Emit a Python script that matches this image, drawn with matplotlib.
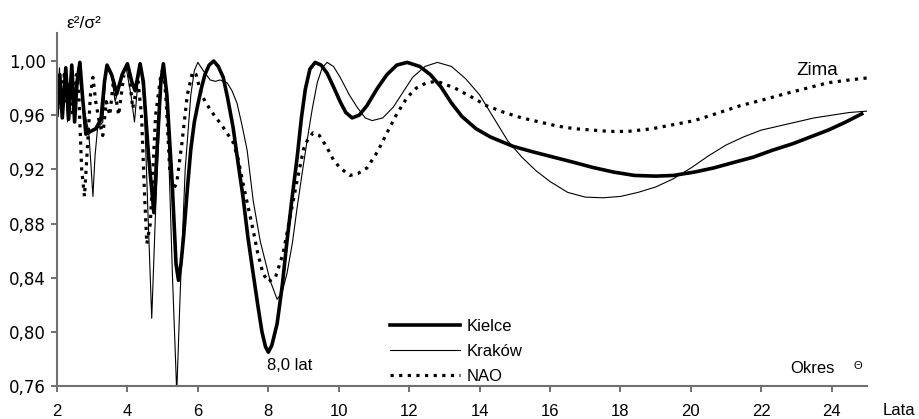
import matplotlib
matplotlib.use("Agg")
import matplotlib.pyplot as plt
from matplotlib.ticker import FixedLocator, FuncFormatter

# --- data (period in years, eps^2/sigma^2) ---
kielce_x = [2.00, 2.08, 2.15, 2.25, 2.33, 2.42, 2.50, 2.57, 2.65, 2.72, 2.82, 2.95,
            3.10, 3.25, 3.35, 3.42, 3.55, 3.70, 3.85, 4.00, 4.12, 4.22, 4.36, 4.45,
            4.60, 4.75, 4.84, 4.95, 5.02, 5.12, 5.27, 5.38, 5.45, 5.52, 5.60, 5.70,
            5.80, 5.90, 6.00, 6.10, 6.20, 6.32, 6.45, 6.58, 6.72, 6.85, 7.00, 7.14,
            7.28, 7.42, 7.57, 7.70, 7.82, 7.92, 8.00, 8.10, 8.25, 8.40, 8.53, 8.68,
            8.82, 8.94, 9.05, 9.18, 9.33, 9.50, 9.67, 9.85, 10.04, 10.20, 10.38, 10.58,
            10.80, 11.10, 11.37, 11.65, 11.94, 12.30, 12.60, 12.90, 13.20, 13.50, 13.90,
            14.30, 14.95, 15.50, 16.10, 16.70, 17.20, 17.80, 18.40, 19.00, 19.50, 20.10,
            20.64, 21.20, 21.77, 22.30, 22.90, 23.40, 23.90, 24.40, 24.85]
kielce_y = [0.960, 0.990, 0.958, 0.995, 0.957, 0.997, 0.955, 0.985, 0.999, 0.975, 0.946, 0.948,
            0.950, 0.957, 0.985, 0.997, 0.990, 0.976, 0.990, 0.998, 0.985, 0.978, 0.998, 0.985,
            0.930, 0.888, 0.934, 0.985, 0.998, 0.975, 0.910, 0.850, 0.838, 0.850, 0.872, 0.905,
            0.935, 0.955, 0.968, 0.980, 0.990, 0.997, 1.000, 0.996, 0.988, 0.972, 0.951, 0.925,
            0.900, 0.870, 0.843, 0.820, 0.800, 0.789, 0.785, 0.790, 0.806, 0.835, 0.867, 0.900,
            0.929, 0.958, 0.979, 0.994, 0.999, 0.997, 0.991, 0.981, 0.970, 0.962, 0.958, 0.960,
            0.967, 0.980, 0.990, 0.997, 0.999, 0.996, 0.990, 0.981, 0.969, 0.959, 0.950,
            0.944, 0.937, 0.933, 0.929, 0.925, 0.9215, 0.918, 0.9155, 0.915, 0.9155, 0.918,
            0.921, 0.925, 0.929, 0.934, 0.939, 0.944, 0.949, 0.955, 0.961]

krakow_x = [2.00, 2.07, 2.13, 2.22, 2.30, 2.40, 2.48, 2.60, 2.70, 2.80, 2.90, 2.96,
            3.02, 3.08, 3.15, 3.30, 3.40, 3.55, 3.65, 3.80, 3.95, 4.10, 4.20, 4.30,
            4.38, 4.48, 4.58, 4.69, 4.80, 4.95, 5.05, 5.15, 5.28, 5.40, 5.50, 5.64,
            5.80, 5.90, 6.00, 6.15, 6.35, 6.50, 6.63, 6.83, 6.97, 7.11, 7.25, 7.40,
            7.57, 7.77, 8.05, 8.25, 8.40, 8.53, 8.68, 8.82, 8.96, 9.10, 9.25, 9.39,
            9.53, 9.67, 9.85, 10.04, 10.30, 10.52, 10.75, 10.95, 11.25, 11.55, 11.85,
            12.10, 12.45, 12.80, 13.20, 13.60, 14.00, 14.40, 14.80, 15.20, 15.60, 16.00,
            16.50, 17.00, 17.50, 18.00, 18.50, 19.00, 19.50, 20.00, 20.50, 21.00, 21.50,
            22.00, 22.50, 23.00, 23.50, 24.00, 24.50, 25.00]
krakow_y = [0.965, 0.995, 0.960, 0.990, 0.955, 0.997, 0.960, 0.995, 0.975, 0.960, 0.948, 0.925,
            0.900, 0.930, 0.950, 0.955, 0.995, 0.990, 0.970, 0.985, 0.997, 0.975, 0.955, 0.985,
            0.997, 0.965, 0.890, 0.810, 0.890, 0.980, 0.997, 0.950, 0.840, 0.755, 0.830, 0.920,
            0.975, 0.993, 0.999, 0.993, 0.986, 0.985, 0.986, 0.984, 0.978, 0.969, 0.953, 0.934,
            0.897, 0.867, 0.838, 0.824, 0.830, 0.843, 0.865, 0.892, 0.917, 0.941, 0.965, 0.984,
            0.995, 0.999, 0.996, 0.988, 0.975, 0.966, 0.958, 0.956, 0.958, 0.966, 0.978,
            0.988, 0.996, 0.999, 0.996, 0.987, 0.975, 0.958, 0.941, 0.929, 0.919, 0.911,
            0.903, 0.8995, 0.899, 0.900, 0.903, 0.907, 0.913, 0.921, 0.930, 0.938, 0.944,
            0.949, 0.952, 0.955, 0.958, 0.960, 0.962, 0.963]

nao_x = [2.00, 2.05, 2.12, 2.20, 2.28, 2.35, 2.45, 2.55, 2.62, 2.70, 2.78, 2.85,
         2.95, 3.02, 3.10, 3.20, 3.30, 3.40, 3.50, 3.60, 3.75, 3.90, 4.05, 4.15,
         4.30, 4.40, 4.48, 4.55, 4.65, 4.80, 4.95, 5.02, 5.10, 5.20, 5.30, 5.40,
         5.55, 5.70, 5.85, 5.95, 6.10, 6.35, 6.72, 7.00, 7.14, 7.28, 7.42, 7.57,
         7.70, 7.85, 8.00, 8.20, 8.42, 8.62, 8.82, 9.00, 9.10, 9.27, 9.45, 9.67,
         9.85, 10.04, 10.32, 10.55, 10.80, 11.10, 11.37, 11.65, 11.94, 12.20, 12.50,
         12.80, 13.30, 13.80, 14.20, 14.70, 15.20, 15.70, 16.20, 16.70, 17.20, 17.70,
         18.20, 18.90, 19.50, 20.10, 20.70, 21.40, 22.00, 22.70, 23.30, 23.90, 24.50, 25.00]
nao_y = [0.960, 0.985, 0.965, 0.990, 0.970, 0.985, 0.960, 0.990, 0.975, 0.920, 0.900, 0.930,
         0.975, 0.988, 0.970, 0.955, 0.945, 0.970, 0.960, 0.985, 0.960, 0.990, 0.990, 0.965,
         0.985, 0.960, 0.905, 0.865, 0.880, 0.960, 0.990, 0.995, 0.970, 0.920, 0.905, 0.910,
         0.940, 0.975, 0.992, 0.990, 0.975, 0.964, 0.951, 0.940, 0.928, 0.910, 0.893, 0.875,
         0.858, 0.843, 0.837, 0.840, 0.858, 0.885, 0.912, 0.935, 0.941, 0.947, 0.945, 0.936,
         0.927, 0.921, 0.9155, 0.917, 0.921, 0.933, 0.947, 0.961, 0.973, 0.980, 0.984,
         0.985, 0.980, 0.973, 0.967, 0.962, 0.958, 0.955, 0.952, 0.950, 0.949, 0.948,
         0.948, 0.950, 0.953, 0.956, 0.961, 0.967, 0.971, 0.976, 0.980, 0.984, 0.986, 0.9875]

x_ticks = [2, 4, 6, 8, 10, 12, 14, 16, 18, 20, 22, 24]
y_ticks = [0.76, 0.80, 0.84, 0.88, 0.92, 0.96, 1.00]

plt.rcParams['font.family'] = ['Liberation Sans', 'DejaVu Sans']
axis_grey = '#707070'

fig = plt.figure(figsize=(9.2, 4.19), dpi=100)
ax = fig.add_axes([57 / 920, 1 - 386 / 419, 810 / 920, 353 / 419])

ax.plot(kielce_x, kielce_y, color='black', lw=2.6, label='Kielce')
ax.plot(krakow_x, krakow_y, color='black', lw=0.8, label='Kraków')
ax.plot(nao_x, nao_y, color='black', lw=2.3, linestyle=(0, (1, 1.7)),
        dash_capstyle='butt', label='NAO')

ax.set_xlim(2, 25)
ax.set_ylim(0.76, 1.0207)
ax.xaxis.set_major_locator(FixedLocator(x_ticks))
ax.yaxis.set_major_locator(FixedLocator(y_ticks))
ax.xaxis.set_major_formatter(FuncFormatter(lambda v, p: f"{v:.0f}"))
ax.yaxis.set_major_formatter(FuncFormatter(lambda v, p: f"{v:.2f}".replace('.', ',')))

for s in ['top', 'right']:
    ax.spines[s].set_visible(False)
for s in ['left', 'bottom']:
    ax.spines[s].set_color(axis_grey)
    ax.spines[s].set_linewidth(1.5)
ax.tick_params(direction='out', length=4, width=1.4, color=axis_grey, labelsize=12)
ax.tick_params(axis='x', pad=9)
ax.tick_params(axis='y', pad=4)
for lbl in ax.get_yticklabels():
    lbl.set_family('DejaVu Sans')

# labels and annotations
fig.text(66 / 920, 1 - 24 / 419, 'ε²/σ²', fontsize=12.5, va='center', ha='left')
fig.text(883 / 920, 1 - 410 / 419, 'Lata', fontsize=12, va='center', ha='left')
ax.text(23.0, 0.993, 'Zima', fontsize=13.5, va='center', ha='left')
ax.text(7.95, 0.775, '8,0 lat', fontsize=12, va='center', ha='left')
ax.text(22.82, 0.773, 'Okres', fontsize=12, va='center', ha='left')
ax.text(24.73, 0.7745, 'Θ', fontsize=8, va='center', ha='center')

ax.legend(loc='upper left', bbox_to_anchor=(390 / 920, 1 - 319 / 419),
          bbox_transform=fig.transFigure, frameon=False, fontsize=12,
          handlelength=4.2, handletextpad=0.42, labelspacing=0.6,
          borderpad=0, borderaxespad=0)

fig.savefig('out.png', dpi=100)
